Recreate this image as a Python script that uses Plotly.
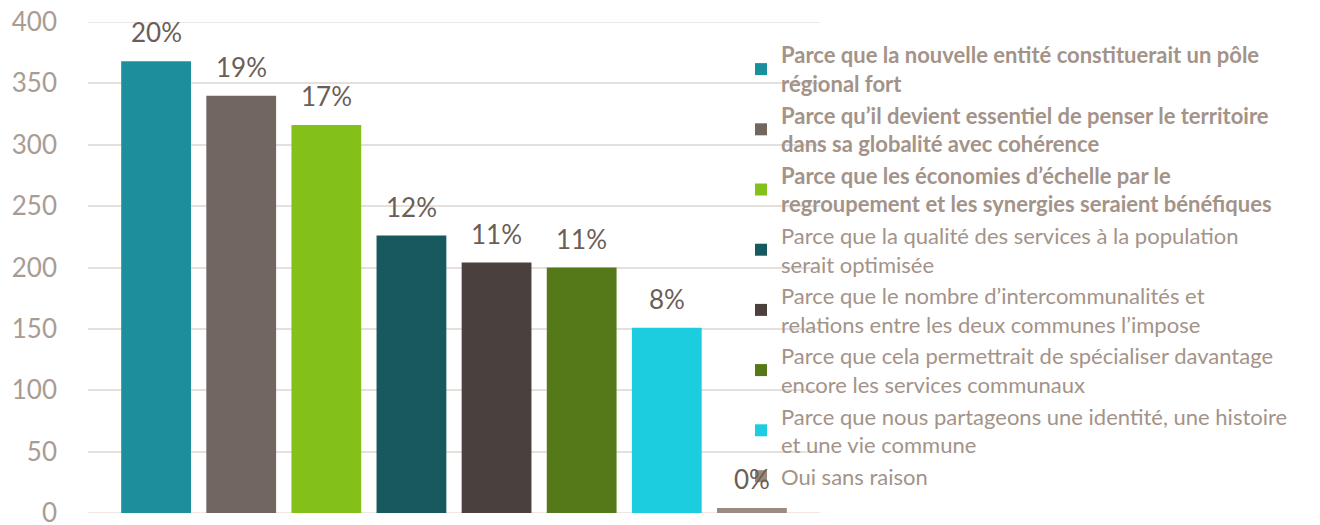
import plotly.graph_objects as go

categories = [
    "<b>Parce que la nouvelle entité constituerait un pôle<br>régional fort</b>",
    "<b>Parce qu’il devient essentiel de penser le territoire<br>dans sa globalité avec cohérence</b>",
    "<b>Parce que les économies d’échelle par le<br>regroupement et les synergies seraient bénéfiques</b>",
    "Parce que la qualité des services à la population<br>serait optimisée",
    "Parce que le nombre d’intercommunalités et<br>relations entre les deux communes l’impose",
    "Parce que cela permettrait de spécialiser davantage<br>encore les services communaux",
    "Parce que nous partageons une identité, une histoire<br>et une vie commune",
    "Oui sans raison",
]
values = [368, 340, 316, 226, 204, 200, 151, 4]
pct_labels = ["20%", "19%", "17%", "12%", "11%", "11%", "8%", "0%"]
colors = ["#1b909c", "#716660", "#83c01a", "#18585f", "#4a403d", "#557818", "#1ccde0", "#9a8a80"]
y_ticks = [0, 50, 100, 150, 200, 250, 300, 350, 400]

FONT = "Lato"
GRID = "#e6e0dc"
OFF = 8  # page body margin
W, H = 1320 - OFF, 525 - OFF
L, T = 88 - OFF, 22 - OFF
PR, PB = 820 - OFF, 513 - OFF
R, B = W - PR, H - PB
PW, PH = PR - L, PB - T

fig = go.Figure()
for i, (name, v, c) in enumerate(zip(categories, values, colors)):
    fig.add_trace(go.Bar(x=[i], y=[v], name=name, marker=dict(color=c, line=dict(width=0)),
                         width=0.82, hoverinfo="skip"))
    fig.add_annotation(x=i, y=v, text=pct_labels[i], showarrow=False, yshift=29,
                       font=dict(family=FONT, size=26, color="#6b5e57"))

# edge gridlines (plotly clips gridlines lying on the plot edges)
for yv in (y_ticks[0], y_ticks[-1]):
    fig.add_shape(type="line", xref="paper", yref="y", x0=0, x1=1, y0=yv, y1=yv,
                  line=dict(color=GRID, width=1.5), layer="below")

fig.add_shape(type="rect", xref="paper", yref="paper", x0=(779 - OFF - L) / PW, x1=1.01,
              y0=(PB - (492 - OFF)) / PH, y1=(PB - (40 - OFF)) / PH, fillcolor="white",
              line=dict(width=0), layer="between")

fig.update_layout(
    width=W, height=H,
    margin=dict(l=L, r=R, t=T, b=B, autoexpand=False),
    paper_bgcolor="white", plot_bgcolor="white",
    barmode="overlay",
    showlegend=True,
    legend=dict(xref="paper", yref="paper", x=(741 - OFF - L) / PW, y=(PB - (34 - OFF)) / PH,
                xanchor="left", yanchor="top", bgcolor="rgba(0,0,0,0)",
                font=dict(family=FONT, size=22, color="#a39389"),
                tracegroupgap=0, itemclick=False, maxheight=520),
    xaxis=dict(range=[-0.8, 7.8], showticklabels=False, showgrid=False, zeroline=False,
               fixedrange=True, automargin=False),
    yaxis=dict(range=[0, 400], tickvals=y_ticks, showgrid=True, gridcolor=GRID,
               gridwidth=1.5, zeroline=False, ticklabelstandoff=30, automargin=False,
               ticklabeloverflow="allow",
               tickfont=dict(family=FONT, size=26, color="#a89c94")),
)
fig.write_html("out.html")
